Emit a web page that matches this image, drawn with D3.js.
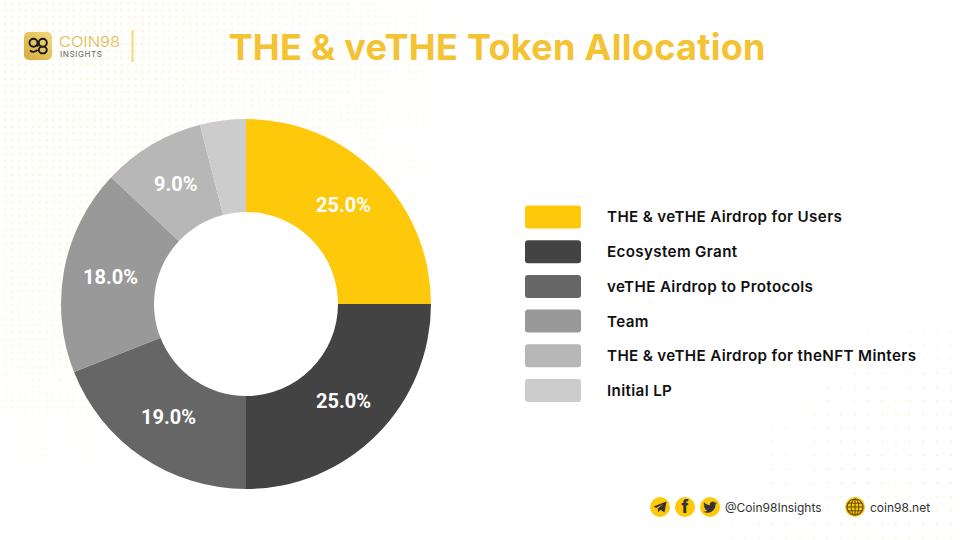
<!DOCTYPE html>
<html>
<head>
<meta charset="utf-8">
<script src="https://cdn.jsdelivr.net/npm/d3@7"></script>
<style>
html, body { margin: 0; padding: 0; background: #fff; }
svg { display: block; }
text { font-family: Inter, sans-serif; }
</style>
</head>
<body>
<div id="chart"></div>
<script>
var categories = ["THE & veTHE Airdrop for Users", "Ecosystem Grant", "veTHE Airdrop to Protocols", "Team", "THE & veTHE Airdrop for theNFT Minters", "Initial LP"];
var shares = [25, 25, 19, 18, 9, 4];
var shareLabels = ["25.0%", "25.0%", "19.0%", "18.0%", "9.0%", ""];
var colors = ["#ffc90b", "#434343", "#666666", "#999999", "#b7b7b7", "#cccccc"];

var width = 960, height = 540;
var svg = d3.select("#chart").append("svg").attr("width", width).attr("height", height);
var defs = svg.append("defs");

//dotted background: rings top-left, softer solid dots bottom-right
var rings = defs.append("pattern").attr("id", "rings").attr("patternUnits", "userSpaceOnUse")
    .attr("x", 2).attr("y", 0).attr("width", 6.85).attr("height", 6.85);
rings.append("circle").attr("cx", 3.4).attr("cy", 3.4).attr("r", 1.1)
    .attr("fill", "none").attr("stroke", "#fdeec8").attr("stroke-width", 0.9);
var dots = defs.append("pattern").attr("id", "dots").attr("patternUnits", "userSpaceOnUse")
    .attr("x", 2).attr("y", 0).attr("width", 13.7).attr("height", 13.7);
dots.append("circle").attr("cx", 3.4).attr("cy", 3.4).attr("r", 1.3).attr("fill", "#fdf3da");

var fadeTL = defs.append("radialGradient").attr("id", "fadeTL").attr("gradientUnits", "userSpaceOnUse")
    .attr("cx", 0).attr("cy", 20).attr("r", 520);
fadeTL.append("stop").attr("offset", "0.25").attr("stop-color", "#fff");
fadeTL.append("stop").attr("offset", "1").attr("stop-color", "#000");
var fadeBR = defs.append("radialGradient").attr("id", "fadeBR").attr("gradientUnits", "userSpaceOnUse")
    .attr("cx", 960).attr("cy", 540).attr("r", 340);
fadeBR.append("stop").attr("offset", "0.3").attr("stop-color", "#fff");
fadeBR.append("stop").attr("offset", "1").attr("stop-color", "#000");
defs.append("mask").attr("id", "maskTL").append("rect").attr("width", width).attr("height", height).attr("fill", "url(#fadeTL)");
defs.append("mask").attr("id", "maskBR").append("rect").attr("width", width).attr("height", height).attr("fill", "url(#fadeBR)");
svg.append("rect").attr("width", width).attr("height", height).attr("fill", "url(#rings)").attr("mask", "url(#maskTL)");
svg.append("rect").attr("width", width).attr("height", height).attr("fill", "url(#dots)").attr("mask", "url(#maskBR)");

// donut
var pie = d3.pie().sort(null).value(function(d) { return d; });
var arc = d3.arc().innerRadius(92).outerRadius(185);
var labelArc = d3.arc().innerRadius(138).outerRadius(138);
var donut = svg.append("g").attr("transform", "translate(246,304)");
var slices = pie(shares);

donut.append("circle").attr("r", 92).attr("fill", "#fff"); //hole stays clean of the dots
donut.selectAll("path").data(slices).enter().append("path")
    .attr("d", arc)
    .attr("fill", function(d, i) { return colors[i]; });

donut.selectAll("text").data(slices).enter().append("text")
    .attr("transform", function(d) { return "translate(" + labelArc.centroid(d) + ")"; })
    .attr("text-anchor", "middle")
    .attr("dy", "0.3em")
    .style("font-family", "Roboto, sans-serif")
    .style("font-weight", 700)
    .style("font-size", "20px")
    .attr("fill", "#fff")
    .text(function(d, i) { return shareLabels[i]; });

// legend
var legendY = d3.scalePoint().domain(categories).range([217, 390.5]);
var legend = svg.append("g");
legend.selectAll("rect").data(categories).enter().append("rect")
    .attr("x", 525).attr("y", function(d) { return legendY(d) - 11.5; })
    .attr("width", 56).attr("height", 23).attr("rx", 3)
    .attr("fill", function(d, i) { return colors[i]; });
legend.selectAll("text").data(categories).enter().append("text")
    .attr("x", 607).attr("y", legendY).attr("dy", "0.36em")
    .style("font-size", "15.2px").style("font-weight", 600).style("letter-spacing", "0.35px").attr("fill", "#111")
    .text(function(d) { return d; });

// title
svg.append("text").attr("x", 497).attr("y", 60).attr("text-anchor", "middle")
    .style("font-size", "36px").style("font-weight", 700).attr("fill", "#f3c334")
    .attr("textLength", 537).attr("lengthAdjust", "spacing")
    .text("THE & veTHE Token Allocation");

// logo
var logoGrad = defs.append("linearGradient").attr("id", "logoGrad").attr("x1", 0).attr("y1", 1).attr("x2", 1).attr("y2", 0);
logoGrad.append("stop").attr("offset", 0).attr("stop-color", "#d6a93a");
logoGrad.append("stop").attr("offset", 1).attr("stop-color", "#f3dc80");
svg.append("rect").attr("x", 24).attr("y", 32).attr("width", 28).attr("height", 28).attr("rx", 5).attr("fill", "url(#logoGrad)");
svg.append("path")
    .attr("d", "M29.5,42.7a4,4 0 1,0 8,0a4,4 0 1,0 -8,0M30,50.5q3.5,3 7.5,-0.5M37.5,42.7v4M38.8,42.7a4,4 0 1,0 8,0a4,4 0 1,0 -8,0M38.8,50a4,3.4 0 1,0 8,0a4,3.4 0 1,0 -8,0")
    .attr("fill", "none").attr("stroke", "#1a1a1a").attr("stroke-width", 1.9);
svg.append("text").attr("x", 59).attr("y", 46.5)
    .style("font-size", "15px").style("font-weight", 300).attr("fill", "#e0b94f")
    .attr("textLength", 61).attr("lengthAdjust", "spacingAndGlyphs").text("COIN98");
svg.append("text").attr("x", 60).attr("y", 57)
    .style("font-size", "8px").style("font-weight", 500).attr("fill", "#777")
    .attr("textLength", 42).text("INSIGHTS");
svg.append("rect").attr("x", 131.5).attr("y", 30).attr("width", 2).attr("height", 32).attr("fill", "#f8d678");

// footer icons
var footerIcons = [660, 685, 710];
var iconInk = "#333";
svg.selectAll(".icon").data(footerIcons).enter().append("circle").attr("class", "icon")
    .attr("cx", function(d) { return d; }).attr("cy", 507).attr("r", 10).attr("fill", "#ffc90b");
svg.append("path").attr("transform", "translate(660,507)")
    .attr("d", "M-6.5,-0.5L6.5,-5.5L4.5,5.5L0.5,2.8L-1.8,5.2L-2.2,1.6L3.5,-3L-3.8,0.9Z")
    .attr("fill", iconInk);
svg.append("text").attr("x", 685).attr("y", 513).attr("text-anchor", "middle")
    .style("font-size", "17px").style("font-weight", 800).attr("fill", iconInk).text("f");
svg.append("path").attr("transform", "translate(703.2,500.4) scale(0.57)")
    .attr("d", "M23.95 4.57a10 10 0 01-2.82.77 4.96 4.96 0 002.16-2.72c-.95.55-2 .96-3.12 1.19a4.92 4.92 0 00-8.38 4.48C7.69 8.1 4.07 6.13 1.64 3.16a4.82 4.82 0 00-.67 2.48c0 1.71.87 3.21 2.19 4.1a4.9 4.9 0 01-2.23-.62v.06a4.92 4.92 0 003.95 4.83 5 5 0 01-2.21.08 4.94 4.94 0 004.6 3.42A9.87 9.87 0 010 19.54a14 14 0 007.56 2.21c9.05 0 14-7.5 14-13.98 0-.21 0-.42-.02-.63a9.94 9.94 0 002.46-2.55z")
    .attr("fill", iconInk);
svg.append("text").attr("x", 725).attr("y", 511.5)
    .style("font-size", "12px").style("font-weight", 400).attr("fill", "#333").text("@Coin98Insights");

// globe
var globe = svg.append("g").attr("transform", "translate(855,507)");
globe.append("circle").attr("r", 10).attr("fill", "#ffc90b");
globe.append("circle").attr("r", 8).attr("fill", "none").attr("stroke", "#5a4a10").attr("stroke-width", 1.2);
globe.append("ellipse").attr("rx", 3.8).attr("ry", 8).attr("fill", "none").attr("stroke", "#5a4a10");
globe.append("path").attr("d", "M-8,0H8M-7,-3.8H7M-7,3.8H7M0,-8V8").attr("stroke", "#5a4a10");
svg.append("text").attr("x", 870).attr("y", 511.5)
    .style("font-size", "12px").style("font-weight", 400).attr("fill", "#333").text("coin98.net");
</script>
</body>
</html>
